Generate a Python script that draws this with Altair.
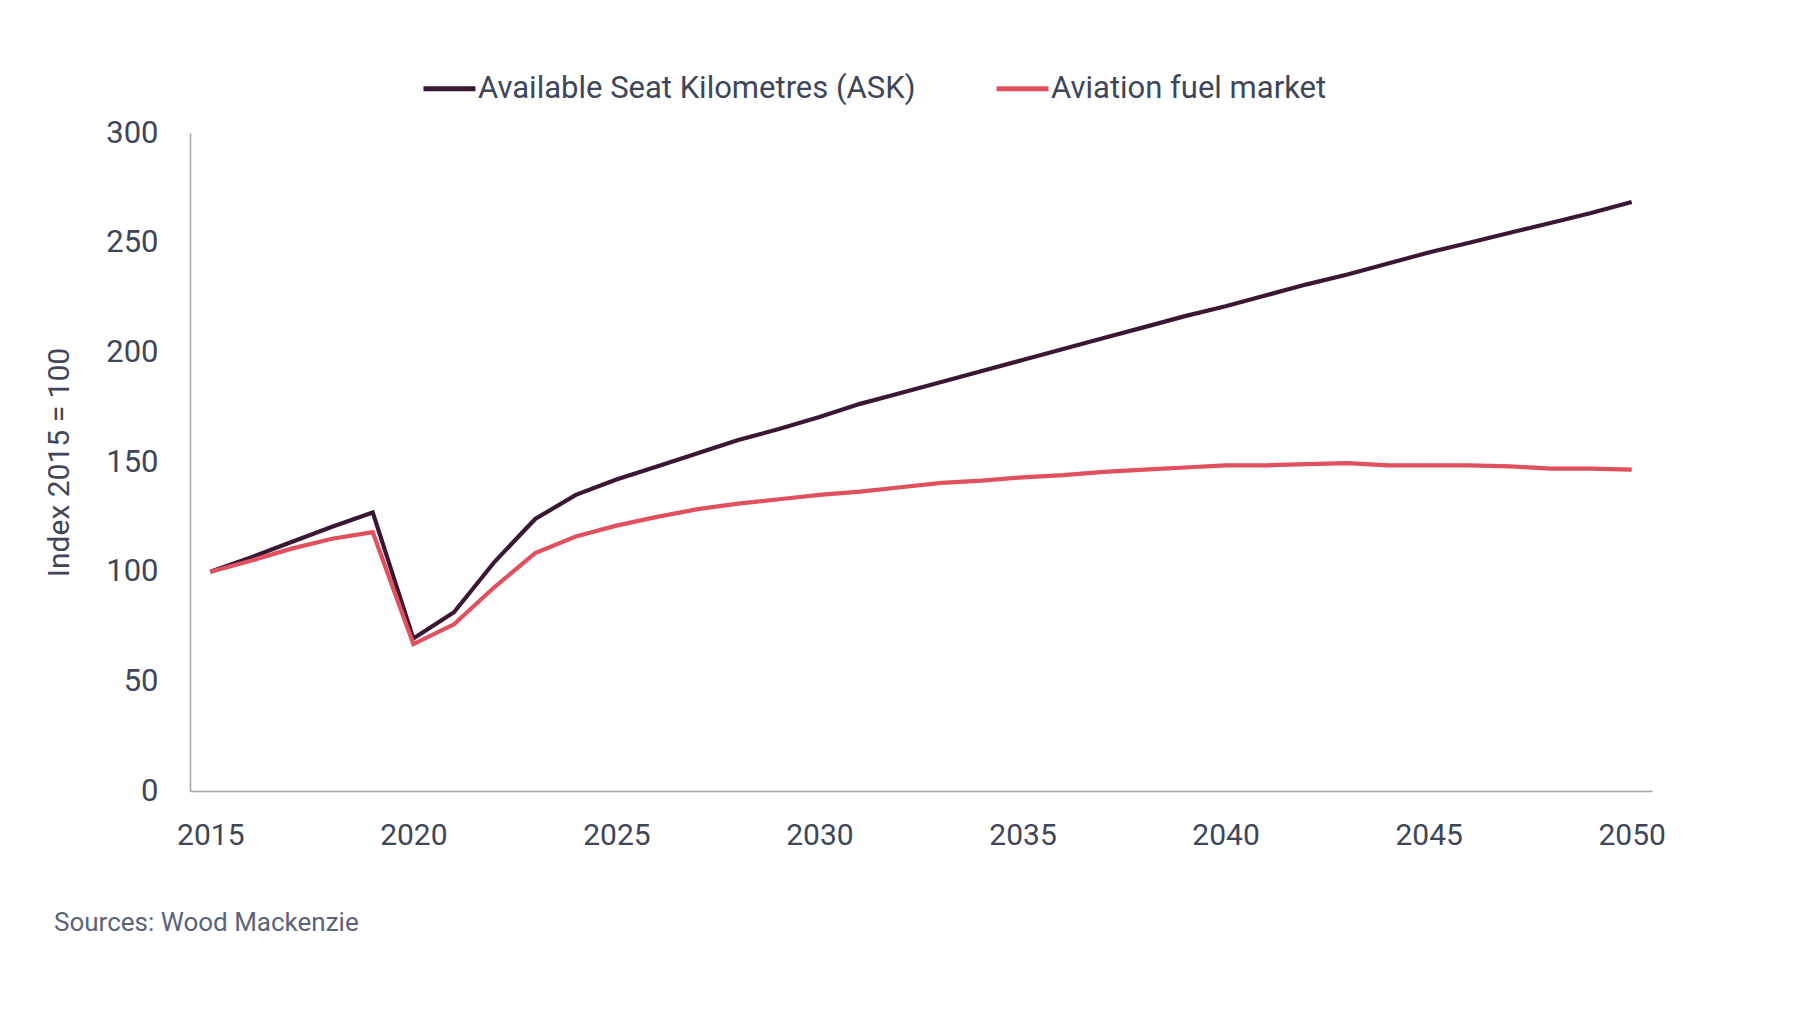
import altair as alt
import pandas as pd

years = list(range(2015, 2051))
ask = [100, 106.5, 113.5, 120.5, 127, 69.5, 81.5, 104.5, 124, 135,
       142, 148, 154, 160, 165, 170.5, 176.5, 181.5, 186.5, 191.5,
       196.5, 201.5, 206.5, 211.5, 216.5, 221, 226, 231, 235.5, 240.5,
       245.5, 250, 254.5, 259, 263.5, 268.5]
fuel = [100, 105, 110.5, 115, 118, 67, 76, 93, 108.5, 116,
        121, 125, 128.5, 131, 133, 135, 136.5, 138.5, 140.5, 141.5,
        143, 144, 145.5, 146.5, 147.5, 148.5, 148.5, 149, 149.5, 148.5,
        148.5, 148.5, 148, 147, 147, 146.5]
series_names = ["Available Seat Kilometres (ASK)", "Aviation fuel market"]
series_colors = ["#3a1733", "#e0505e"]

df = pd.concat([
    pd.DataFrame({"year": years, "value": ask, "series": series_names[0]}),
    pd.DataFrame({"year": years, "value": fuel, "series": series_names[1]}),
])

FONT = "Roboto"
TEXT = "#3e4658"

chart = alt.Chart(df).mark_line(strokeWidth=4.2, strokeJoin="miter").encode(
    x=alt.X("year:Q",
            scale=alt.Scale(domain=[2014.5, 2050.5], nice=False, zero=False),
            axis=alt.Axis(values=list(range(2015, 2051, 5)), format="d", title=None,
                          ticks=False, grid=False, domainColor="#a6a6a6", domainWidth=1.5,
                          labelFontSize=30, labelColor=TEXT, labelFont=FONT,
                          labelPadding=29, labelFlush=False)),
    y=alt.Y("value:Q",
            scale=alt.Scale(domain=[0, 300], nice=False),
            axis=alt.Axis(values=list(range(0, 301, 50)), title="Index 2015 = 100",
                          ticks=False, grid=False, domainColor="#a6a6a6", domainWidth=1.5,
                          labelFontSize=31, labelColor=TEXT, labelFont=FONT,
                          labelPadding=32,
                          titleFontSize=30, titleFont=FONT, titleColor=TEXT,
                          titleFontWeight="normal", titleX=-131, titleY=329,
                          titleAngle=-90, titleAlign="center", titleBaseline="middle")),
    color=alt.Color("series:N",
                    scale=alt.Scale(domain=series_names, range=series_colors),
                    legend=alt.Legend(title=None, orient="none", direction="horizontal",
                                      legendX=231, legendY=-73,
                                      symbolType="stroke", symbolSize=2704,
                                      symbolStrokeWidth=5, labelFontSize=31,
                                      labelFont=FONT, labelColor=TEXT, labelOffset=0,
                                      columnPadding=70, labelLimit=800, padding=0)),
).properties(
    width=1462, height=658,
    title=alt.TitleParams(text="Sources: Wood Mackenzie", orient="bottom", anchor="start",
                          frame="group", dx=-136, offset=60, fontSize=26, font=FONT,
                          color="#5a6478", fontWeight="normal"),
    autosize=alt.AutoSizeParams(type="none"),
    padding={"left": 182, "top": 125, "right": 140, "bottom": 213},
).configure(background="white").configure_view(stroke=None)

chart.save("out.html", embed_options={"renderer": "svg", "actions": False})
